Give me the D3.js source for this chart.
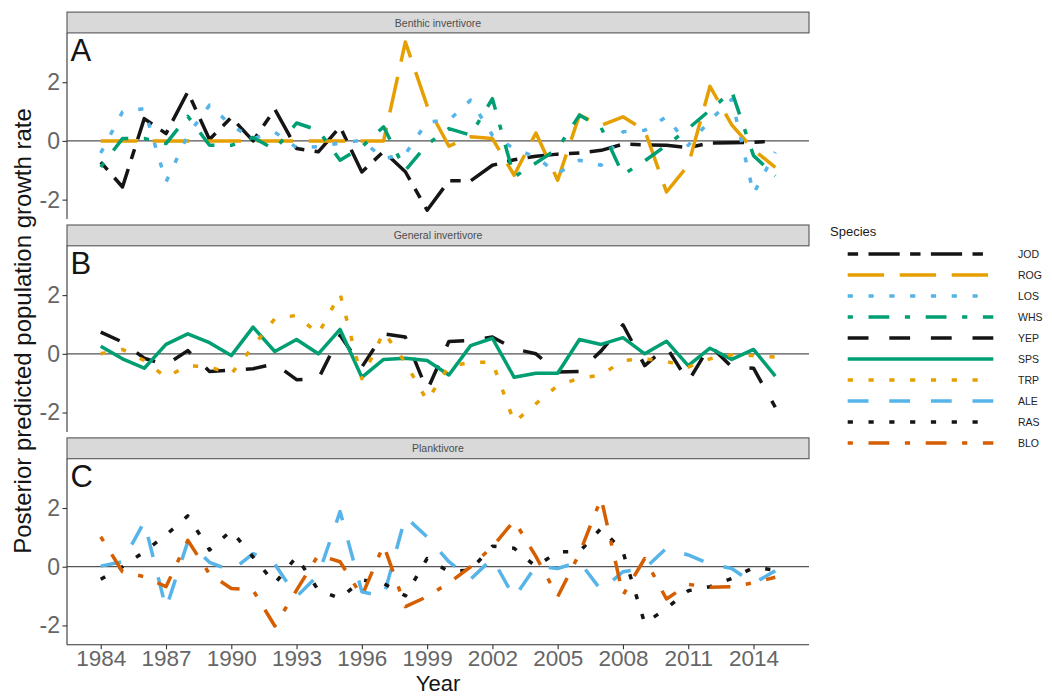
<!DOCTYPE html>
<html><head><meta charset="utf-8">
<script src="https://cdn.jsdelivr.net/npm/d3@7/dist/d3.min.js"></script>
<style>
body{margin:0;background:#fff}
svg{display:block}
text{font-family:"Liberation Sans",Arial,Helvetica,sans-serif}
</style>
</head><body>
<svg id="chart" width="1052" height="696"></svg>
<script>
// ---------- data ----------
const years = [1984,1985,1986,1987,1988,1989,1990,1991,1992,1993,1994,1995,1996,1997,1998,1999,
               2000,2001,2002,2003,2004,2005,2006,2007,2008,2009,2010,2011,2012,2013,2014,2015];
const xTickLabels = ["1984","1987","1990","1993","1996","1999","2002","2005","2008","2011","2014"];
const yTickValues = [-2, 0, 2];
const yTickLabels = ["-2", "0", "2"];
const facetNames = ["Benthic invertivore", "General invertivore", "Planktivore"];
const panelLetters = ["A", "B", "C"];
const species = ["JOD","ROG","LOS","WHS","YEP","SPS","TRP","ALE","RAS","BLO"];
const speciesFacet = [0,0,0,0,1,1,1,2,2,2];

const JOD = [-0.72,-1.57,0.76,0.25,1.67,0.05,0.80,0.00,1.08,-0.26,-0.37,0.48,-1.06,-0.36,-1.05,-2.36,
             -1.36,-1.36,-0.83,-0.64,-0.52,-0.45,-0.41,-0.32,-0.11,-0.13,-0.15,-0.23,-0.07,-0.06,-0.05,0.00];
const ROG = [0,0,0,0,0,0,0,0,0,0,0,0,0,0,3.37,1.20,
             -0.18,0.14,0.08,-1.17,0.27,-1.34,0.88,0.53,0.82,0.36,-1.74,-0.83,1.86,0.55,-0.30,-0.90];
const LOS = [-0.41,0.99,1.10,-1.40,0.19,1.22,0.53,0.08,0.30,-0.23,-0.20,-0.07,0.02,-0.60,-0.45,0.65,
             0.70,1.39,0.19,-0.26,-0.55,-1.11,-0.66,-0.83,0.31,0.36,0.82,-0.15,0.70,1.42,-1.80,-0.38];
const WHS = [-0.89,0.08,0.08,-0.09,0.84,-0.15,-0.15,0.12,-0.30,0.61,0.36,-0.66,-0.20,0.48,-1.00,-0.12,
             0.42,0.20,1.44,-1.23,-0.75,-0.26,0.88,0.45,-1.15,-0.68,-0.15,0.42,1.05,1.69,-0.50,-1.19];
const YEP = [0.74,0.40,-0.15,-0.38,0.11,-0.60,-0.55,-0.51,-0.34,-0.88,-0.85,0.63,-0.45,0.68,0.57,-1.25,
             0.42,0.45,0.57,0.17,0.00,-0.62,-0.60,0.10,0.99,-0.40,0.23,-0.94,0.28,-0.45,-0.49,-1.82];
const SPS = [0.26,-0.17,-0.49,0.32,0.68,0.38,-0.06,0.91,0.08,0.49,0.00,0.83,-0.80,-0.19,-0.15,-0.23,
             -0.72,0.28,0.53,-0.80,-0.66,-0.66,0.49,0.32,0.55,0.00,0.43,-0.40,0.19,-0.19,0.15,-0.76];
const TRP = [0.00,0.15,-0.23,-0.80,-0.40,-0.45,-0.68,0.25,1.20,1.31,0.68,2.05,-0.85,0.74,-0.30,-1.60,
             -0.42,-0.30,-0.28,-2.33,-1.70,-1.08,-0.83,-0.72,-0.23,-0.17,-0.26,-0.45,-0.17,-0.03,-0.06,-0.11];
const ALE = [0.02,0.17,1.53,-1.42,0.85,0.15,-0.14,0.45,0.09,-1.02,-0.28,1.88,-0.85,-1.02,1.70,1.02,
             0.17,-0.42,0.28,-1.05,0.02,-0.06,0.17,-0.80,-0.17,-0.06,0.63,0.40,0.09,-0.06,-0.57,-0.14];
const RAS = [-0.43,0.00,0.51,1.08,1.73,0.57,1.23,0.33,-0.57,0.34,-0.80,-1.08,-0.45,-0.57,-0.99,0.28,
             -0.17,-0.11,0.70,0.63,0.00,0.51,0.51,1.31,0.51,-1.93,-1.42,-0.82,-0.68,-0.40,-0.03,-0.11];
const BLO = [1.02,-0.17,-0.34,-0.68,0.90,-0.25,-0.74,-0.80,-2.02,-0.80,0.40,0.17,-1.00,0.74,-1.36,-1.02,
             -0.55,0.00,0.68,1.57,0.35,-1.02,0.45,2.33,-0.97,0.28,-1.10,-0.60,-0.70,-0.68,-0.55,-0.36];
const seriesValues = [JOD,ROG,LOS,WHS,YEP,SPS,TRP,ALE,RAS,BLO];

// ---------- styles ----------
const colorOf = {JOD:"#151515",ROG:"#E69F00",LOS:"#56B4E9",WHS:"#009E73",YEP:"#151515",
                 SPS:"#009E73",TRP:"#E69F00",ALE:"#56B4E9",RAS:"#151515",BLO:"#D55E00"};
const u = 5.2;
const dashOf = {
  JOD: [2*u,2*u,6*u,2*u].join(" "),
  ROG: [7*u,3*u].join(" "),
  LOS: [1*u,3*u].join(" "),
  WHS: [1*u,3*u,4*u,3*u].join(" "),
  YEP: [4*u,4*u].join(" "),
  SPS: "none",
  TRP: [1*u,3*u].join(" "),
  ALE: [4*u,4*u].join(" "),
  RAS: [1*u,3*u].join(" "),
  BLO: [1*u,3*u,4*u,3*u].join(" ")
};
const lineW = 3.5;

// ---------- layout ----------
const svg = d3.select("#chart");
svg.append("rect").attr("width",1052).attr("height",696).attr("fill","#fff");

const panelLeft = 67, panelRight = 809;
const panelTop0 = 32.9, panelStep = 212.9, panelH = 186.1, stripH = 20.8;
const axisCol = "#333333", tickTextCol = "#666666";

const x = d3.scaleLinear().domain([1982.45, 2016.55]).range([panelLeft, panelRight]);
const y = d3.scaleLinear().domain([-2.66, 3.68]).range([panelH, 0]);

const line = d3.line().x(d => x(d.year)).y(d => y(d.value));

facetNames.forEach((fname, fi) => {
  const top = panelTop0 + fi * panelStep;
  const g = svg.append("g").attr("transform", `translate(0,${top})`);

  // strip
  g.append("rect").attr("x", panelLeft).attr("y", -stripH).attr("width", panelRight - panelLeft)
    .attr("height", stripH).attr("fill", "#D9D9D9").attr("stroke", "#555").attr("stroke-width", 1.1);
  g.append("text").attr("x", (panelLeft + panelRight) / 2).attr("y", -stripH / 2)
    .attr("text-anchor", "middle").attr("dominant-baseline", "central")
    .attr("font-size", 10.5).attr("fill", "#4D4D4D").text(fname);

  // zero reference line
  g.append("line").attr("x1", panelLeft).attr("x2", panelRight).attr("y1", y(0)).attr("y2", y(0))
    .attr("stroke", "#555").attr("stroke-width", 1.2);

  // series
  species.forEach((sp, si) => {
    if (speciesFacet[si] !== fi) return;
    const pts = years.map((yr, k) => ({year: yr, value: seriesValues[si][k]}));
    g.append("path").datum(pts).attr("d", line).attr("fill", "none")
      .attr("stroke", colorOf[sp]).attr("stroke-width", lineW)
      .attr("stroke-dasharray", dashOf[sp]).attr("stroke-linecap", "butt")
      .attr("stroke-linejoin", "round");
  });

  // y axis
  const yAxis = d3.axisLeft(y).tickValues(yTickValues).tickFormat((d, i) => yTickLabels[i])
    .tickSize(4.5).tickPadding(2.5);
  const ya = g.append("g").attr("transform", `translate(${panelLeft},0)`).call(yAxis);
  ya.select(".domain").attr("d", `M0,0V${panelH}`).attr("stroke", axisCol).attr("stroke-width", 1.1);
  ya.selectAll(".tick line").attr("stroke", axisCol).attr("stroke-width", 1.1);
  ya.selectAll(".tick text").attr("font-size", 23).attr("fill", tickTextCol)
    .attr("font-family", '"Liberation Sans",Arial,sans-serif');

  // panel letter
  g.append("text").attr("x", 70.5).attr("y", 28.3).attr("font-size", 31)
    .attr("fill", "#151515").text(panelLetters[fi]);

  // x axis on the bottom panel only
  if (fi === facetNames.length - 1) {
    const xAxis = d3.axisBottom(x).tickValues(xTickLabels.map(Number))
      .tickFormat((d, i) => xTickLabels[i]).tickSize(4.5).tickPadding(1.2);
    const xa = g.append("g").attr("transform", `translate(0,${panelH})`).call(xAxis);
    xa.select(".domain").attr("d", `M${panelLeft},0H${panelRight}`).attr("stroke", axisCol).attr("stroke-width", 1.1);
    xa.selectAll(".tick line").attr("stroke", axisCol).attr("stroke-width", 1.1);
    xa.selectAll(".tick text").attr("font-size", 22.5).attr("fill", tickTextCol)
      .attr("font-family", '"Liberation Sans",Arial,sans-serif');
  }
});

// axis titles
svg.append("text").attr("x", (panelLeft + panelRight) / 2).attr("y", 691)
  .attr("text-anchor", "middle").attr("font-size", 22).attr("fill", "#151515").text("Year");
svg.append("text").attr("transform", "translate(30.5,331) rotate(-90)")
  .attr("text-anchor", "middle").attr("font-size", 24).attr("fill", "#151515")
  .text("Posterior predicted population growth rate");

// legend
const lg = svg.append("g");
lg.append("text").attr("x", 830).attr("y", 236).attr("font-size", 13).attr("fill", "#1a1a1a").text("Species");
const legendY = d3.scalePoint().domain(species).range([254, 443]);
species.forEach(sp => {
  const yy = legendY(sp);
  lg.append("line").attr("x1", 847.7).attr("x2", 993.3).attr("y1", yy).attr("y2", yy)
    .attr("stroke", colorOf[sp]).attr("stroke-width", lineW)
    .attr("stroke-dasharray", dashOf[sp]).attr("stroke-linecap", "butt");
  lg.append("text").attr("x", 1018).attr("y", yy).attr("dominant-baseline", "central")
    .attr("font-size", 10.5).attr("fill", "#222").text(sp);
});
</script>
</body></html>
